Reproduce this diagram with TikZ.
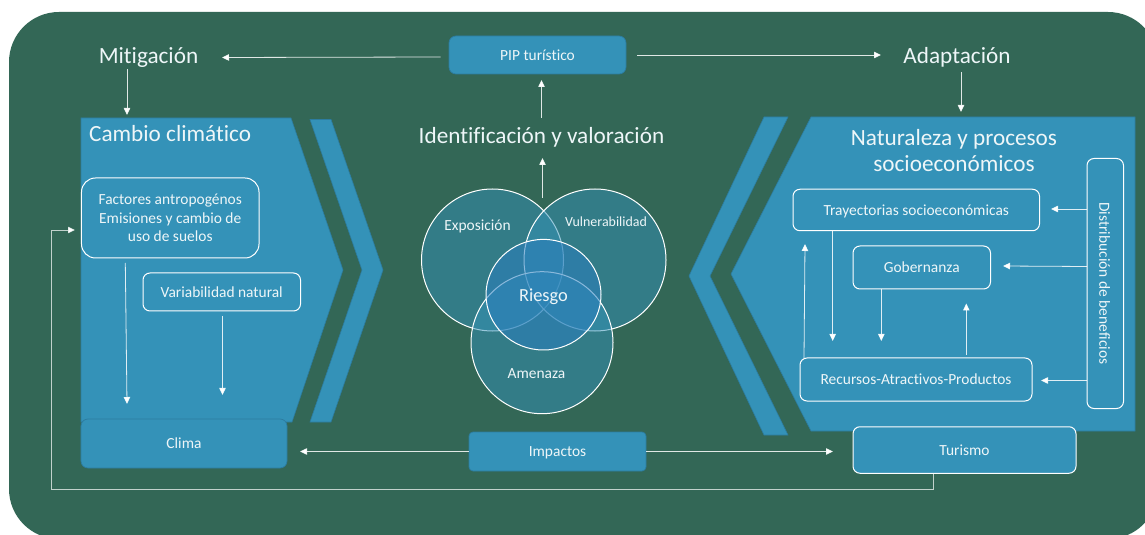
\documentclass[tikz,border=0pt]{standalone}
\usepackage{fontspec}
\setmainfont[Ligatures=NoCommon]{Carlito}
\usetikzlibrary{arrows.meta}
\definecolor{bgreen}{HTML}{336756}
\definecolor{pan}{HTML}{3492B8}
\definecolor{panedge}{HTML}{2C7CA0}
\definecolor{txt}{HTML}{EEF6F8}
\definecolor{cfill}{HTML}{3492B8}
\definecolor{rfill}{HTML}{2A7FBF}
\tikzset{
  x=1bp,y=-1bp,
  panel/.style={fill=pan,draw=panedge,line width=0.6bp},
  big/.style={text=txt,font=\fontsize{23.3}{27}\selectfont,align=center,inner sep=0pt},
  small/.style={text=txt,font=\fontsize{15.5}{18.5}\selectfont,align=center,inner sep=0pt},
  oneline/.style={text height=10.5bp,text depth=0pt},
  bluebox/.style={small,rectangle,rounded corners=7bp,fill=pan,draw=panedge,line width=0.7bp},
  whitebox/.style={small,rectangle,rounded corners=7bp,fill=pan,draw=white,line width=1bp},
  conn/.style={draw=white,draw opacity=0.85,line width=0.8bp,-{Triangle[width=6.5bp,length=7bp]}},
  plainline/.style={draw=white,draw opacity=0.7,line width=0.8bp},
  venn/.style={circle,minimum size=142bp,inner sep=0pt,draw=white,line width=1bp,fill=cfill,fill opacity=0.5},
  vennlabel/.style={small},
}
\begin{document}
\begin{tikzpicture}
\useasboundingbox (0,0) rectangle (1145,535);
\fill[white] (0,0) rectangle (1145,535);
\clip (0,0) rectangle (1145,535);
\fill[bgreen,rounded corners=50bp] (9,12) rectangle (1158,539);
% chevrons
\path[panel] (81,118) -- (291,118) -- (343,270) -- (292,422) -- (81,422) -- cycle;
\path[panel] (310,119.5) -- (331,119.5) -- (383,270) -- (331,422) -- (310,422) -- (362,270) -- cycle;
\path[panel] (811,117) -- (1135,117) -- (1135,431) -- (811,431) -- (731,274) -- cycle;
\path[panel] (764,117) -- (788,117) -- (710,276) -- (788,435) -- (764,435) -- (689,276) -- cycle;
% endpoints on the chevrons
\coordinate (cambioTop) at (127,115);
\coordinate (naturTop) at (961,112);
\coordinate (climaEnd) at (127,404);
\coordinate (climaEndB) at (222.5,395);
% titles
\node[big] (mit) at (148.5,58) {Mitigación};
\node[big] (ada) at (957,57) {Adaptación};
\node[big] (iden) at (541.5,137) {Identificación y valoración};
\node[big,anchor=west] (cam) at (89,134) {Cambio climático};
\node[big] (nat) at (954,150.5) {Naturaleza y procesos\\socioeconómicos};
% boxes
\node[bluebox,oneline,minimum width=177bp,minimum height=38bp] (pip) at (537.5,55) {PIP turístico};
\node[whitebox,rounded corners=14bp,minimum width=177.5bp,minimum height=80bp] (fac) at (170.25,218) {Factores antropogénos\\Emisiones y cambio de\\uso de suelos};
\node[whitebox,oneline,minimum width=157.5bp,minimum height=38bp] (var) at (221.75,292) {Variabilidad natural};
\node[bluebox,oneline,minimum width=206bp,minimum height=49bp] (cli) at (184,443.5) {Clima};
\node[bluebox,oneline,rounded corners=4bp,minimum width=177bp,minimum height=39bp] (imp) at (557.5,451.5) {Impactos};
\node[whitebox,oneline,minimum width=223bp,minimum height=46.5bp] (tur) at (964.5,450) {Turismo};
\node[whitebox,oneline,minimum width=246.5bp,minimum height=41.5bp] (tra) at (916.25,210) {Trayectorias socioeconómicas};
\node[whitebox,oneline,minimum width=137.5bp,minimum height=43bp] (gob) at (921.75,267.5) {Gobernanza};
\node[whitebox,oneline,minimum width=232bp,minimum height=43bp] (rec) at (916,379.5) {Recursos-Atractivos-Productos};
\node[whitebox,rotate=-90,text height=12bp,text depth=0pt,minimum width=250bp,minimum height=36.5bp] (dis) at (1105.25,283.5) {Distribución de beneficios};
% venn
\node[venn] (exp) at (492.5,260) {};
\node[venn] (vul) at (595,260) {};
\node[venn] (ame) at (542,342.7) {};
\draw[white,line width=1bp,fill=rfill,fill opacity=0.55] (543.5,294.7) ellipse [x radius=57.5,y radius=55.3];
\node[small,font=\fontsize{18.5}{22}\selectfont] (rie) at (543.5,296.5) {Riesgo};
\node[vennlabel] at (477.5,226.5) {Exposición};
\node[vennlabel,font=\fontsize{14}{18}\selectfont] at (606,221.5) {Vulnerabilidad};
\node[vennlabel] at (536.5,373.5) {Amenaza};
\coordinate (riskOut) at (542.5,198);
\coordinate (pipIn) at (541.5,80);
\coordinate (idenOut) at (541.5,118);
% connectors
\draw[conn] ([yshift=-2bp]pip.west) ++(-8,0) -- (222,57.5);
\draw[conn] ([xshift=11bp]pip.east) -- (881,55);
\draw[conn] (127,69) -- (cambioTop);
\draw[conn] (961,72) -- (naturTop);
\draw[conn] (idenOut) -- (pipIn);
\draw[conn] (riskOut) -- (542.5,158);
\draw[conn] (125.3,263) -- (climaEnd);
\draw[conn] (222.5,316) -- (climaEndB);
\draw[conn] (imp.west) -- (300,451.5);
\draw[conn] (imp.east) -- (833,451.5);
\draw[plainline,-{Triangle[width=6.5bp,length=7bp]}] (933,473) -- (933,489.5) -- (51.5,489.5) -- (51.5,230) -- (75,230);
\draw[conn] (1087,209) -- (1051,209);
\draw[conn] (1087,266.5) -- (1003,266);
\draw[conn] (1087,380.5) -- (1041,380.5);
\draw[conn] (804,358) -- (805,244);
\draw[conn] (832.7,231) -- (832.7,341);
\draw[conn] (881.3,289) -- (881.3,341);
\draw[conn] (966.3,355) -- (966.3,303.5);
\end{tikzpicture}
\end{document}
